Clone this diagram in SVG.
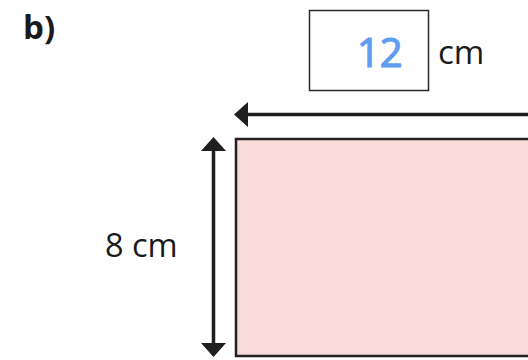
<svg xmlns="http://www.w3.org/2000/svg" width="528" height="360" viewBox="0 0 528 360">
<style>
.lbl{font-family:"Open Sans","Liberation Sans",sans-serif;fill:#1a1a1a}
.line{stroke:#1f1f1f;stroke-width:3.5;fill:none}
.head{fill:#1f1f1f}
</style>
<rect width="528" height="360" fill="#ffffff"/>
<g id="label-b"><text class="lbl" x="23" y="39" font-size="33" font-weight="bold">b)</text></g>
<g id="answer-box">
<rect x="309.5" y="10.5" width="119" height="80" fill="#ffffff" stroke="#2a2a2a" stroke-width="1.5"/>
<text x="357" y="67" font-family="Open Sans, Liberation Sans, sans-serif" font-size="40" fill="#5f9df2" stroke="#5f9df2" stroke-width="1.2" stroke-linejoin="round">12</text>
<text class="lbl" x="438" y="64" font-size="33">cm</text>
</g>
<g id="rectangle">
<rect x="236" y="139" width="300" height="217" fill="#f9dbda" stroke="#222222" stroke-width="2.5"/>
</g>
<g id="label-8cm"><text class="lbl" x="105" y="257" font-size="32.5">8 cm</text></g>
<g id="connectors">
<line class="line" x1="246" y1="114.5" x2="528" y2="114.5"/>
<polygon class="head" points="234,114.5 248,102 248,127"/>
<line class="line" x1="213.5" y1="150" x2="213.5" y2="344"/>
<polygon class="head" points="213.5,137 201,151 226,151"/>
<polygon class="head" points="213.5,357 201,343 226,343"/>
</g>
</svg>
